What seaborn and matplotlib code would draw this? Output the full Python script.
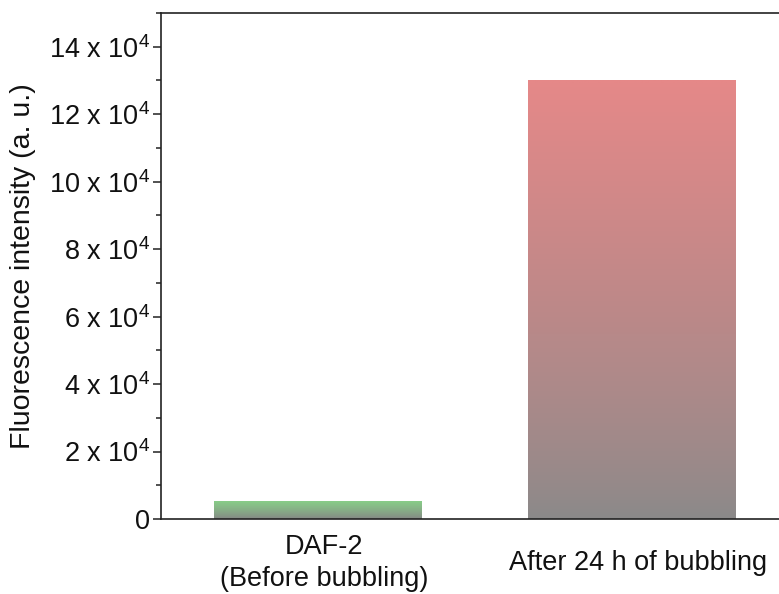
import numpy as np
import pandas as pd
import matplotlib
matplotlib.use('Agg')
import matplotlib.pyplot as plt
import matplotlib.transforms as mtransforms
from matplotlib.colors import LinearSegmentedColormap
from matplotlib.ticker import MultipleLocator, FuncFormatter
import seaborn as sns

# données
categories = ['DAF-2\n(Before bubbling)', 'After 24 h of bubbling']
values = [5400, 130000]
top_colors = ['#88D088', '#E58888']
bottom_colors = ['#858585', '#8A8A8A']

sns.set_style('white')
plt.rcParams['font.family'] = ['Liberation Sans', 'DejaVu Sans']
plt.rcParams['mathtext.fontset'] = 'custom'
plt.rcParams['mathtext.rm'] = 'Liberation Sans'
plt.rcParams['mathtext.it'] = 'Liberation Sans:italic'

df = pd.DataFrame({'cat': categories, 'val': values})

fig = plt.figure(figsize=(7.79, 5.94), dpi=100)
ax_w = 1.01 - 161 / 779
ax = fig.add_axes([161 / 779, 75 / 594, ax_w, (519 - 13) / 594])

sns.barplot(data=df, x='cat', y='val', ax=ax, width=0.66, color='white')

# remplissage en dégradé (gris en bas -> couleur en haut)
for patch, ctop, cbot in zip(ax.patches, top_colors, bottom_colors):
    x0, y0 = patch.get_x(), patch.get_y()
    w, h = patch.get_width(), patch.get_height()
    patch.set_facecolor('none')
    patch.set_edgecolor('none')
    cmap = LinearSegmentedColormap.from_list('g', [cbot, ctop])
    grad = np.linspace(0, 1, 256).reshape(-1, 1) ** 0.8
    im = ax.imshow(grad, cmap=cmap, aspect='auto', origin='lower',
                   extent=[x0, x0 + w, y0, y0 + h], zorder=2)
    im.set_clip_path(patch)

ax.set_xlim(-0.5, -0.5 + (ax_w * 779) / 314)
ax.set_ylim(0, 150000)
ax.yaxis.set_major_locator(MultipleLocator(20000))
ax.yaxis.set_minor_locator(MultipleLocator(10000))
ax.yaxis.set_major_formatter(FuncFormatter(
    lambda v, p: '0' if v == 0 else f'{int(v / 10000)} x 10$^4$'))

for s in ax.spines.values():
    s.set_visible(True)
    s.set_linewidth(1.2)
    s.set_color('#222222')

ax.tick_params(axis='y', which='major', direction='out', length=6, width=1.1,
               left=True, color='#222222', pad=2, labelsize=19.5,
               labelcolor='#111111')
ax.tick_params(axis='y', which='minor', direction='out', length=3.5, width=1.1,
               left=True, color='#222222')
ax.tick_params(axis='x', length=0, pad=32, labelsize=19.5, labelcolor='#111111')
shift = mtransforms.ScaledTranslation(6 / 100, 0, fig.dpi_scale_trans)
for lab in ax.get_xticklabels():
    lab.set_verticalalignment('center')
    lab.set_linespacing(1.3)
    lab.set_transform(lab.get_transform() + shift)

ax.set_xlabel('')
ax.set_ylabel('Fluorescence intensity (a. u.)', fontsize=20.5, color='#111111')
ax.yaxis.set_label_coords(-0.2, 0.5)

fig.savefig('out.png', dpi=100)
